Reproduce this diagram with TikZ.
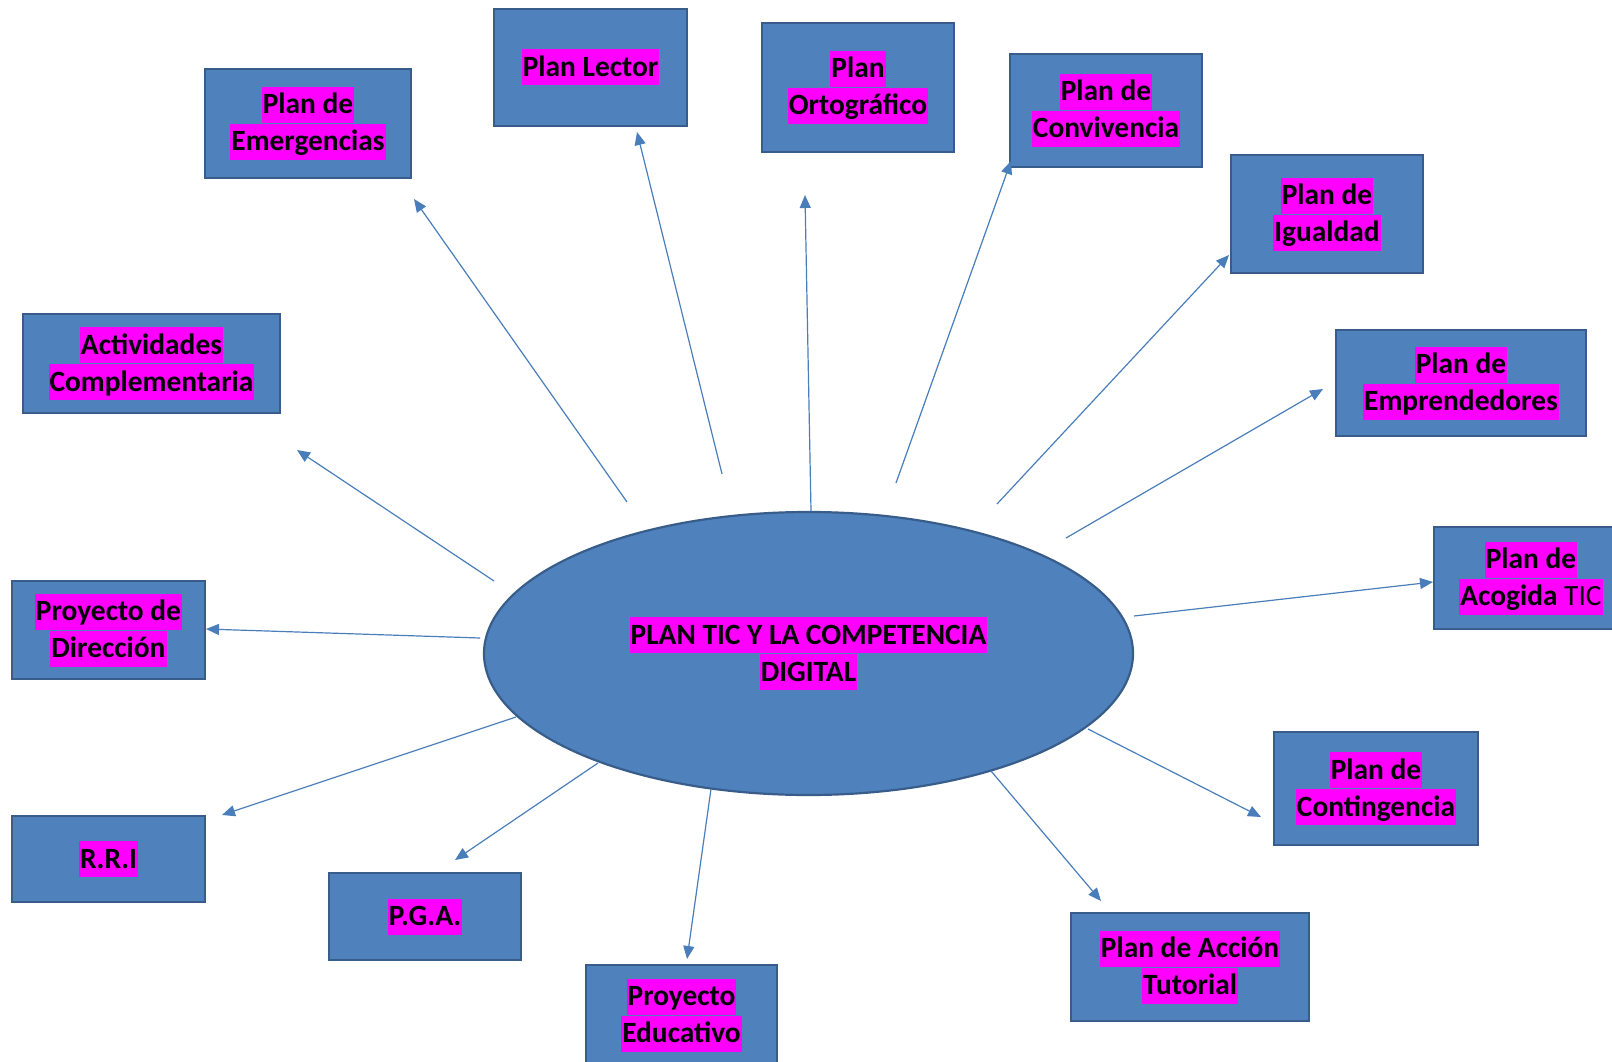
\documentclass[tikz,border=0pt]{standalone}
\usepackage{fontspec}
\setmainfont{Carlito}
\usetikzlibrary{shapes.geometric,arrows.meta}
\definecolor{boxfill}{HTML}{4F81BD}
\definecolor{boxline}{HTML}{385D8A}
\definecolor{arrowc}{HTML}{4A7EBB}
\definecolor{hlmag}{HTML}{FF00FF}
\newcommand\hlt[1]{{\setlength{\fboxsep}{0pt}\colorbox{hlmag}{\rule[-9pt]{0pt}{36pt}\kern1pt#1\kern1pt}}}
\tikzset{
  box/.style={draw=boxline, line width=2.2pt, fill=boxfill, inner sep=0pt, align=center,
    font=\bfseries\fontsize{29.4}{37}\selectfont},
  conn/.style={draw=arrowc, line width=1.2pt, -{Triangle[length=13pt,width=11pt]}},
}
\begin{document}
\begin{tikzpicture}[x=1pt,y=-1pt]
\useasboundingbox (0,0) rectangle (1612,1062);
\clip (0,0) rectangle (1612,1062);
% central ellipse
\node[box, ellipse, minimum width=649pt, minimum height=283pt] (c) at (808.5,653.5)
  {\hlt{PLAN TIC Y LA COMPETENCIA}\\\hlt{DIGITAL}};
% boxes
\node[box, minimum width=206pt, minimum height=109pt] (b1) at (308,123.5) {\hlt{Plan de}\\\hlt{Emergencias}};
\node[box, minimum width=193pt, minimum height=117pt] (b2) at (590.5,67.5) {\hlt{Plan Lector}};
\node[box, minimum width=192pt, minimum height=129pt] (b3) at (858,87.5) {\hlt{Plan}\\\hlt{Ortográfico}};
\node[box, minimum width=192pt, minimum height=113pt] (b4) at (1106,110.5) {\hlt{Plan de}\\\hlt{Convivencia}};
\node[box, minimum width=192pt, minimum height=118pt] (b5) at (1327,214) {\hlt{Plan de}\\\hlt{Igualdad}};
\node[box, minimum width=250pt, minimum height=106pt] (b6) at (1461,383) {\hlt{Plan de}\\\hlt{Emprendedores}};
\node[box, minimum width=194pt, minimum height=102pt] (b7) at (1531,578) {\hlt{Plan de}\\\hlt{Acogida\mdseries{} TIC}};
\node[box, minimum width=204pt, minimum height=113pt] (b8) at (1376,788.5) {\hlt{Plan de}\\\hlt{Contingencia}};
\node[box, minimum width=238pt, minimum height=108pt] (b9) at (1190,967) {\hlt{Plan de Acción}\\\hlt{Tutorial}};
\node[box, minimum width=191pt, minimum height=100pt] (b10) at (681.5,1015) {\hlt{Proyecto}\\\hlt{Educativo}};
\node[box, minimum width=192pt, minimum height=87pt] (b11) at (425,916.5) {\hlt{P.G.A.}};
\node[box, minimum width=193pt, minimum height=86pt] (b12) at (108.5,859) {\hlt{R.R.I}};
\node[box, minimum width=193pt, minimum height=98pt] (b13) at (108.5,630) {\hlt{Proyecto de}\\\hlt{Dirección}};
\node[box, minimum width=257pt, minimum height=99pt] (b14) at (151.5,363.5) {\hlt{Actividades}\\\hlt{Complementaria}};
% connector end points
\coordinate (s1) at (627,502);  \coordinate (e1) at (414,199);
\coordinate (s2) at (722,474);  \coordinate (e2) at (637,132);
\coordinate (s3) at (811,511);  \coordinate (e3) at (805,195);
\coordinate (s4) at (896,483);  \coordinate (e4) at (1011,161);
\coordinate (s5) at (997,504);  \coordinate (e5) at (1229,255);
\coordinate (s6) at (1066,538); \coordinate (e6) at (1323,389);
\coordinate (s7) at (1134,616); \coordinate (e7) at (1433,582);
\coordinate (s8) at (1088,729); \coordinate (e8) at (1261,817);
\coordinate (s9) at (991,771);  \coordinate (e9) at (1101,901);
\coordinate (s10) at (711,789); \coordinate (e10) at (687,959);
\coordinate (s11) at (598,763); \coordinate (e11) at (455,860);
\coordinate (s12) at (516,717); \coordinate (e12) at (222,815);
\coordinate (s13) at (480,638); \coordinate (e13) at (206,629);
\coordinate (s14) at (494,581); \coordinate (e14) at (297,450);
\foreach \i in {1,...,14} { \draw[conn] (s\i) -- (e\i); }
\end{tikzpicture}
\end{document}
